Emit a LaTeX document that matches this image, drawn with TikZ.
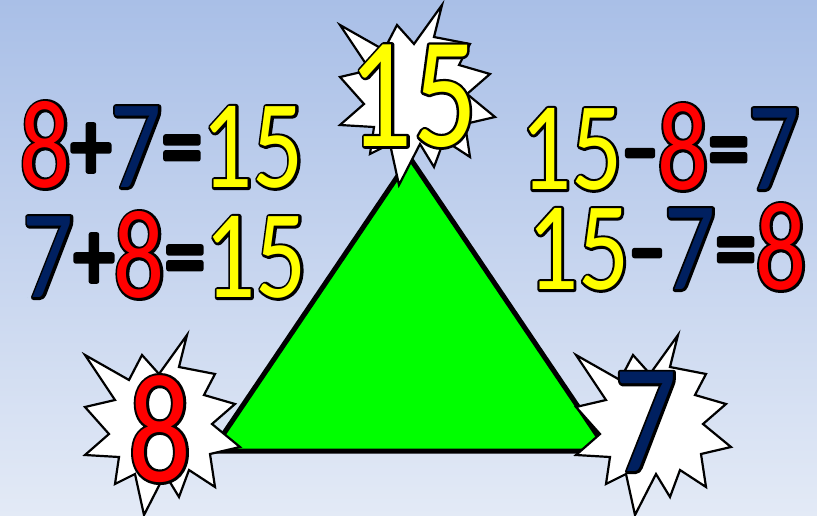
\documentclass[tikz,border=0pt]{standalone}
\usepackage{fontspec}
\usetikzlibrary{calc}
\newfontfamily\sumfont[FakeStretch=0.8]{Carlito}
\definecolor{skytop}{HTML}{A9BFE7}
\definecolor{skybot}{HTML}{E3EAF6}
\definecolor{numred}{HTML}{FF0000}
\definecolor{numblue}{HTML}{002060}
\definecolor{numyellow}{HTML}{FFFF00}
\definecolor{trigreen}{HTML}{00FF00}
% coloured figure over a black stroked copy of itself
\newcommand{\rimmed}[2]{\rlap{\special{pdf:literal direct 0 0 0 RG 5 w 1 j 2 Tr}#2\special{pdf:literal direct 0 Tr}}\textcolor{#1}{#2}}
\newcommand{\redn}[1]{\rimmed{numred}{#1}}
\newcommand{\bluen}[1]{\rimmed{numblue}{#1}}
\newcommand{\yelln}[1]{\rimmed{numyellow}{#1}}
\newcommand{\sgn}[1]{\raisebox{8pt}{\fontsize{100}{100}\selectfont\rimmed{black}{#1}}}
\newcommand{\minussgn}{\raisebox{12pt}{\fontsize{88}{88}\selectfont\rimmed{black}{–}}}

\begin{document}
\begin{tikzpicture}[x=1pt,y=-1pt,
  burst/.style={draw=black, fill=white, line width=2.2pt, line join=miter},
  sum/.style={inner sep=0pt, font=\sumfont\fontsize{126}{126}\selectfont},
  big/.style={inner sep=0pt, font=\sumfont\fontsize{#1}{#1}\selectfont}]
\shade[top color=skytop, bottom color=skybot] (0,0) rectangle (817,516);
\useasboundingbox (0,0) rectangle (817,516);

% the fact triangle
\draw[line width=5pt, fill=trigreen, line join=miter] (410,158) -- (608,451) -- (212,451) -- cycle;

% explosions at the corners
\foreach \bx/\by in {417/97, 162/427, 653/427}
  \draw[burst, shift={(\bx,\by)}] (25,-92) -- (17,-60) -- (53,-53) -- (42,-32) -- (73,-23)
    -- (50,-3) -- (78,20) -- (48,27) -- (53,60) -- (27,43) -- (17,70) -- (3,47)
    -- (-18,88) -- (-27,47) -- (-47,57) -- (-43,30) -- (-77,28) -- (-53,7)
    -- (-77,-20) -- (-47,-27) -- (-77,-72) -- (-33,-47) -- (-20,-72) -- (-3,-53) -- cycle;

% corner numbers
\node[big=158] (whole) at (413,96) {\yelln{15}};
\node[big=155] (partA) at (160,429) {\redn{8}};
\node[big=155] (partB) at (646,422) {\bluen{7}};

% number sentences
\node[sum] (addA) at (162,145) {\redn{8}\sgn{+}\bluen{7}\sgn{=}\yelln{15}};
\node[sum] (addB) at (165,255) {\bluen{7}\sgn{+}\redn{8}\sgn{=}\yelln{15}};
\node[sum] (subA) at (660,147) {\yelln{15}\minussgn\redn{8}\sgn{=}\bluen{7}};
\node[sum] (subB) at (667,247) {\yelln{15}\minussgn\bluen{7}\sgn{=}\redn{8}};
\end{tikzpicture}
\end{document}
